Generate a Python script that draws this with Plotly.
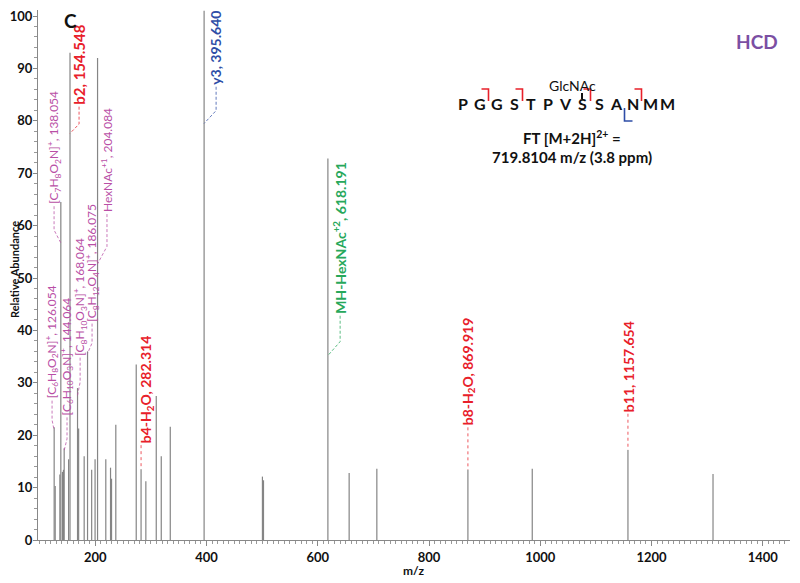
import plotly.graph_objects as go

# ---------------- data ----------------
peak_mz = [126.054, 127.9, 136.3, 138.054, 141.0, 142.8, 144.064, 152.0, 154.548,
           168.064, 170.05, 180.0, 186.075, 193.5, 199.6, 204.084, 218.9, 227.4,
           229.2, 236.9, 273.6, 282.314, 290.9, 309.6, 318.6, 334.8, 395.640,
           500.5, 502.4, 618.191, 656.4, 706.2, 869.919, 985.6, 1157.654, 1310.6]
peak_int = [21.5, 10.3, 12.5, 64.5, 13.0, 13.4, 17.5, 15.4, 93.0,
            29.0, 21.3, 16.0, 36.0, 13.4, 15.4, 92.0, 15.4, 13.8,
            11.7, 22.0, 33.5, 13.5, 11.2, 27.5, 16.0, 21.6, 101.0,
            12.1, 11.4, 72.8, 12.8, 13.6, 13.4, 13.6, 17.2, 12.6]

MAG = "#B94FA6"
RED = "#E8202A"
BLUE = "#2E4DA7"
GREEN = "#27A85B"
# text, peak m/z, join height, label m/z, label-bottom height, colour, weight, size, connector kind
labels = [
    ("b2, 154.548", 154.548, 77.6, 170.8, 82.7, RED, "bold", 15, "elbow"),
    ("[C<sub>7</sub>H<sub>8</sub>O<sub>2</sub>N]<sup>+</sup>, 138.054", 138.054, 56.7, 125.9, 63.7, MAG, "normal", 12, "elbow"),
    ("HexNAc<sup>+1</sup>, 204.084", 204.084, 52.7, 221.0, 62.2, MAG, "normal", 12, "elbow"),
    ("[C<sub>8</sub>H<sub>12</sub>O<sub>4</sub>N]<sup>+</sup>, 186.075", 186.075, 35.6, 194.2, 41.3, MAG, "normal", 12, "elbow"),
    ("[C<sub>8</sub>H<sub>10</sub>O<sub>3</sub>N]<sup>+</sup>, 168.064", 168.064, 27.6, 172.7, 34.8, MAG, "normal", 12, "elbow"),
    ("[C<sub>6</sub>H<sub>10</sub>O<sub>3</sub>N]<sup>+</sup>, 144.064", 144.064, 17.1, 149.2, 23.4, MAG, "normal", 12, "elbow"),
    ("[C<sub>6</sub>H<sub>8</sub>O<sub>2</sub>N]<sup>+</sup>, 126.054", 126.054, 20.9, 122.3, 26.6, MAG, "normal", 12, "elbow"),
    ("y3, 395.640", 395.640, 79.5, 417.2, 86.5, BLUE, "bold", 14, "elbow"),
    ("MH-HexNAc<sup>+2</sup>, 618.191", 618.191, 35.2, 640.2, 42.8, GREEN, "bold", 14, "elbow"),
    ("b4-H<sub>2</sub>O, 282.314", 282.314, 13.5, 291.3, 18.1, RED, "bold", 14, "straight"),
    ("b8-H<sub>2</sub>O, 869.919", 869.919, 13.4, 869.919, 21.5, RED, "bold", 14, "straight"),
    ("b11, 1157.654", 1157.654, 17.2, 1157.654, 24.1, RED, "bold", 14, "straight"),
]

sequence = list("PGGSTPVSSANMM")
b_cleavages = [2, 4, 8, 11]      # b-ion cleavage after residue n
y_cleavages = [3]                # y-ion with n C-terminal residues
glyco_site = 8                   # residue (1-based) carrying GlcNAc

x_ticks = [200, 400, 600, 800, 1000, 1200, 1400]
y_ticks = [0, 10, 20, 30, 40, 50, 60, 70, 80, 90, 100]

# ---------------- layout helpers ----------------
# the page body has an 8px default margin: the figure is drawn 8px right/down
OFF = 8
FONT = "Lato"
W, H = 800 - OFF, 583 - OFF
P_LEFT, P_RIGHT, P_TOP, P_BOTTOM = 38, 790, 10, 540          # plot area, page px
L, R, T, B = P_LEFT - OFF, W - (P_RIGHT - OFF), P_TOP - OFF, H - (P_BOTTOM - OFF)
PW, PH = W - L - R, H - T - B


def px_x(px):
    return (px - P_LEFT) / PW


def px_y(py):
    return (P_BOTTOM - py) / PH


def note(px, py, text, size, color="#111", weight="bold", angle=0, **kw):
    fig.add_annotation(x=px_x(px), y=px_y(py), xref="paper", yref="paper",
                       text=text, textangle=angle, showarrow=False,
                       xanchor="center", yanchor="middle",
                       font=dict(family=FONT, size=size, color=color, weight=weight), **kw)


fig = go.Figure()

xs, ys = [], []
for m, h in zip(peak_mz, peak_int):
    xs += [m, m, None]
    ys += [0, h, None]
fig.add_trace(go.Scatter(x=xs, y=ys, mode="lines",
                         line=dict(color="#858585", width=1.2),
                         hoverinfo="skip", showlegend=False))

for text, pm, jh, lm, lb, col, wt, fs, kind in labels:
    if kind == "elbow":
        mid = jh + (lb - jh) * 0.35
        cx, cy, dash = [lm, lm, pm], [lb, mid, jh], "3px,2px"
    else:
        cx, cy, dash = [pm, pm], [lb, jh], "dot"
    fig.add_trace(go.Scatter(x=cx, y=cy, mode="lines",
                             line=dict(color=col, width=1, dash=dash),
                             opacity=0.75, hoverinfo="skip", showlegend=False))
    fig.add_annotation(x=lm, y=lb, xref="x", yref="y", text=text, textangle=-90,
                       showarrow=False, xanchor="center", yanchor="bottom",
                       font=dict(family=FONT, size=fs, color=col, weight=wt))

# ---------------- peptide sequence ----------------
seq_x0 = 463
seq_dx = 17.0
seq_y = 104
n = len(sequence)
for i, aa in enumerate(sequence):
    note(seq_x0 + seq_dx * i, seq_y, aa, 16)
for c in b_cleavages:
    bx = seq_x0 + seq_dx * (c - 0.5)
    fig.add_shape(type="path", xref="paper", yref="paper",
                  path=f"M {px_x(bx - 7)} {px_y(89)} L {px_x(bx)} {px_y(89)} L {px_x(bx)} {px_y(101)}",
                  line=dict(color=RED, width=1.6))
for c in y_cleavages:
    yx = seq_x0 + seq_dx * (n - c - 0.5)
    fig.add_shape(type="path", xref="paper", yref="paper",
                  path=f"M {px_x(yx)} {px_y(108)} L {px_x(yx)} {px_y(121)} L {px_x(yx + 8)} {px_y(121)}",
                  line=dict(color=BLUE, width=1.6))
gx = seq_x0 + seq_dx * (glyco_site - 1)
fig.add_shape(type="line", xref="paper", yref="paper",
              x0=px_x(gx), x1=px_x(gx), y0=px_y(93), y1=px_y(99),
              line=dict(color="#111", width=2))
note(572, 86, "GlcNAc", 14, weight="normal")
note(572, 138, "FT [M+2H]<sup>2+</sup> =", 15)
note(572, 157, "719.8104 m/z (3.8 ppm)", 15)
note(70, 21, "C", 19)
note(757, 42, "HCD", 19, color="#7B4FA3")
note(14, 270, "Relative Abundance", 11, angle=-90)
note(413, 570, "m/z", 12)

fig.update_layout(
    width=W, height=H,
    margin=dict(l=L, r=R, t=T, b=B, autoexpand=False),
    paper_bgcolor="white", plot_bgcolor="white",
    font=dict(family=FONT, color="#111"),
)
fig.update_xaxes(range=[97, 1449], tickvals=x_ticks, ticks="outside", ticklen=5,
                 tickcolor="#888", showline=True, linecolor="#888", linewidth=1,
                 showgrid=False, zeroline=False, automargin=False,
                 ticklabeloverflow="allow",
                 minor=dict(dtick=10, ticks="outside", ticklen=3, tickcolor="#999", showgrid=False),
                 tickfont=dict(family=FONT, size=13, color="#111", weight="bold"))
fig.update_yaxes(range=[0, 101.15], tickvals=y_ticks, ticks="outside", ticklen=4,
                 tickcolor="#888", showline=True, linecolor="#888", linewidth=1,
                 showgrid=False, zeroline=False, automargin=False,
                 ticklabeloverflow="allow", ticklabelstandoff=-2,
                 minor=dict(dtick=2, ticks="outside", ticklen=3, tickcolor="#999", showgrid=False),
                 tickfont=dict(family=FONT, size=13, color="#111", weight="bold"))

fig.write_html("out.html")
